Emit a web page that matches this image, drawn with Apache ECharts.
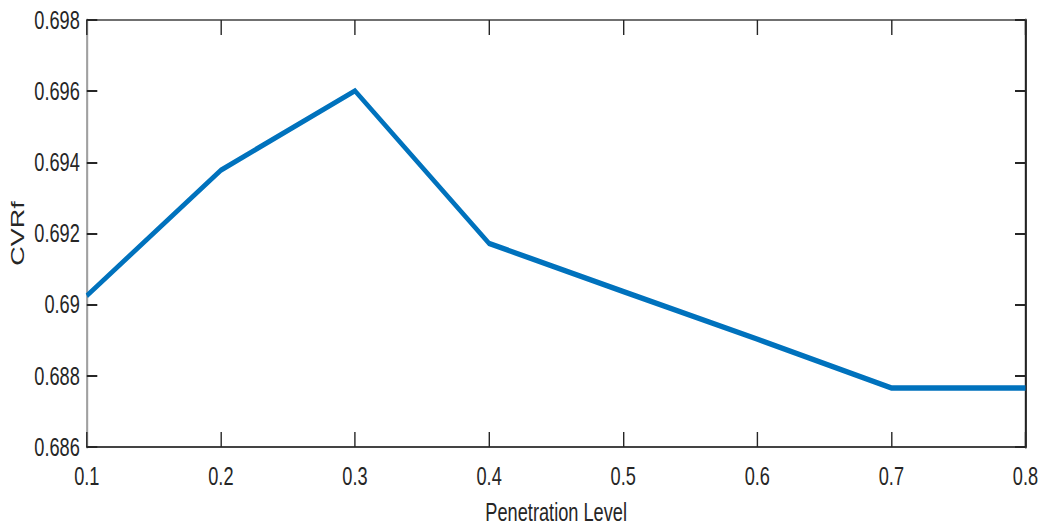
<!DOCTYPE html>
<html>
<head>
<meta charset="utf-8">
<script src="https://cdn.jsdelivr.net/npm/echarts@6/dist/echarts.min.js"></script>
<style>
  html, body { margin: 0; padding: 0; background: #fff; overflow: hidden; }
  /* The figure is laid out wide and squeezed horizontally, giving narrow lettering */
  #chart { width: 1489px; height: 527px; transform: scaleX(0.7); transform-origin: 0 0; }
</style>
</head>
<body>
<div id="chart"></div>
<script>
// Penetration levels along the x axis
const penetration = [0.1, 0.2, 0.3, 0.4, 0.5, 0.6, 0.7, 0.8];
// CVRf value at each penetration level
const cvrf = [0.69025, 0.69378, 0.69601, 0.69172, 0.69037, 0.68903, 0.68766, 0.68766];
// Axis ranges and steps
const xRange = [0.1, 0.8, 0.1];
const yRange = [0.686, 0.698, 0.002];
const xName = 'Penetration Level';
const yName = 'CVRf';

const textDark = '#262626';
const font = '"Liberation Sans", Arial, Helvetica, sans-serif';
const fmtX = v => String(parseFloat(v.toFixed(1)));
const fmtY = v => String(parseFloat(v.toFixed(3)));

const chart = echarts.init(document.getElementById('chart'), null, { renderer: 'svg' });

const tickInside = { show: true, inside: true, length: 15, lineStyle: { color: textDark, width: 2 } };

chart.setOption({
  animation: false,
  backgroundColor: '#ffffff',
  grid: { left: 124, right: 24, top: 20, bottom: 80, outerBoundsMode: 'none', containLabel: false },
  xAxis: [
    {
      type: 'value', position: 'bottom',
      min: xRange[0], max: xRange[1], interval: xRange[2],
      name: xName, nameLocation: 'middle', nameGap: 52,
      nameTextStyle: { fontFamily: font, fontSize: 26, color: textDark },
      axisLine: { show: true, onZero: false, lineStyle: { color: '#444', width: 2 } },
      axisTick: tickInside,
      splitLine: { show: false },
      axisLabel: { formatter: fmtX, fontFamily: font, fontSize: 26, color: textDark, margin: 16 }
    },
    {
      type: 'value', position: 'top',
      min: xRange[0], max: xRange[1], interval: xRange[2],
      axisLine: { show: true, onZero: false, lineStyle: { color: '#707070', width: 2 } },
      axisTick: tickInside,
      splitLine: { show: false },
      axisLabel: { show: false }
    }
  ],
  yAxis: [
    {
      type: 'value', position: 'left',
      min: yRange[0], max: yRange[1], interval: yRange[2],
      name: yName, nameLocation: 'middle', nameGap: 66, nameRotate: 90,
      nameTextStyle: { fontFamily: font, fontSize: 27, color: textDark },
      axisLine: { show: true, onZero: false, lineStyle: { color: '#a0a0a0', width: 3 } },
      axisTick: tickInside,
      splitLine: { show: false },
      axisLabel: { formatter: fmtY, fontFamily: font, fontSize: 26, color: textDark, margin: 10 }
    },
    {
      type: 'value', position: 'right',
      min: yRange[0], max: yRange[1], interval: yRange[2],
      axisLine: { show: true, onZero: false, lineStyle: { color: '#222', width: 3 } },
      axisTick: tickInside,
      splitLine: { show: false },
      axisLabel: { show: false }
    }
  ],
  series: [
    {
      type: 'line',
      xAxisIndex: 0, yAxisIndex: 0,
      data: penetration.map((x, i) => [x, cvrf[i]]),
      showSymbol: false,
      lineStyle: { color: '#0072BD', width: 5.5, join: 'miter' },
      itemStyle: { color: '#0072BD' }
    }
  ]
});
</script>
</body>
</html>
